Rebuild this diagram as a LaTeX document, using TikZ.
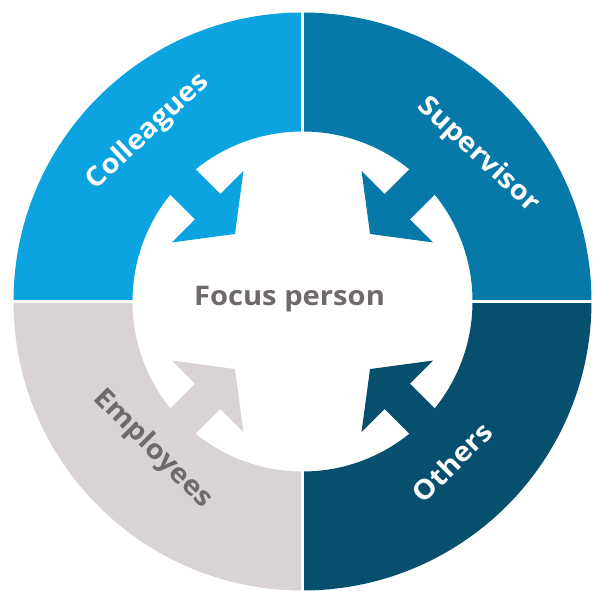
\documentclass[tikz,border=0pt]{standalone}
\usepackage{fontspec}
\setmainfont{Open Sans}
\usetikzlibrary{calc}
\definecolor{colleagues}{HTML}{0BA3E0}
\definecolor{supervisor}{HTML}{0679A9}
\definecolor{others}{HTML}{06506E}
\definecolor{employees}{HTML}{D9D3D3}
\definecolor{txtgray}{HTML}{6F6A69}
\tikzset{
  lbl/.style={font=\fontsize{27}{30}\selectfont\bfseries, inner sep=0pt},
}
\newcommand\myarrow[2]{%
  \begin{scope}[shift={(C)},rotate=#1]
    \fill[#2] (95.5,0) -- (134,50.5) -- (134,18) -- (205,18) -- (205,-18) -- (134,-18) -- (134,-50.5) -- cycle;
  \end{scope}}
\newcommand\mysector[3]{%
  \fill[#3] ($(C)+(#1:289)$) arc[start angle=#1,end angle=#2,radius=289]
     -- ($(C)+(#2:170)$) arc[start angle=#2,end angle=#1,radius=170] -- cycle;}
\begin{document}
\begin{tikzpicture}[x=1pt,y=1pt]
\useasboundingbox (0,0) rectangle (595,590);
\coordinate (C) at (302.5,288.5);
\mysector{90}{180}{colleagues}
\mysector{0}{90}{supervisor}
\mysector{-90}{0}{others}
\mysector{180}{270}{employees}
\myarrow{135}{colleagues}
\myarrow{45}{supervisor}
\myarrow{-45}{others}
\myarrow{-135}{employees}
\draw[white, line width=2.2pt] ($(C)+(0,-292)$) -- ($(C)+(0,292)$);
\draw[white, line width=2.2pt] ($(C)+(-292,0)$) -- ($(C)+(292,0)$);
\node[lbl, text=txtgray] (focus) at (289.5,290.5) {\scalebox{1.08}[1]{Focus person}};
\node[lbl, text=white, rotate=43] (coll) at (148,458) {\scalebox{1.08}[1]{Colleagues}};
\node[lbl, text=white, rotate=-43] (sup) at (478,435) {\scalebox{1.08}[1]{Supervisor}};
\node[lbl, text=white, rotate=45] (oth) at (452,128) {\scalebox{1.08}[1]{Others}};
\node[lbl, text=txtgray, rotate=-45] (emp) at (152.5,141) {\scalebox{1.08}[1]{Employees}};
\end{tikzpicture}
\end{document}
